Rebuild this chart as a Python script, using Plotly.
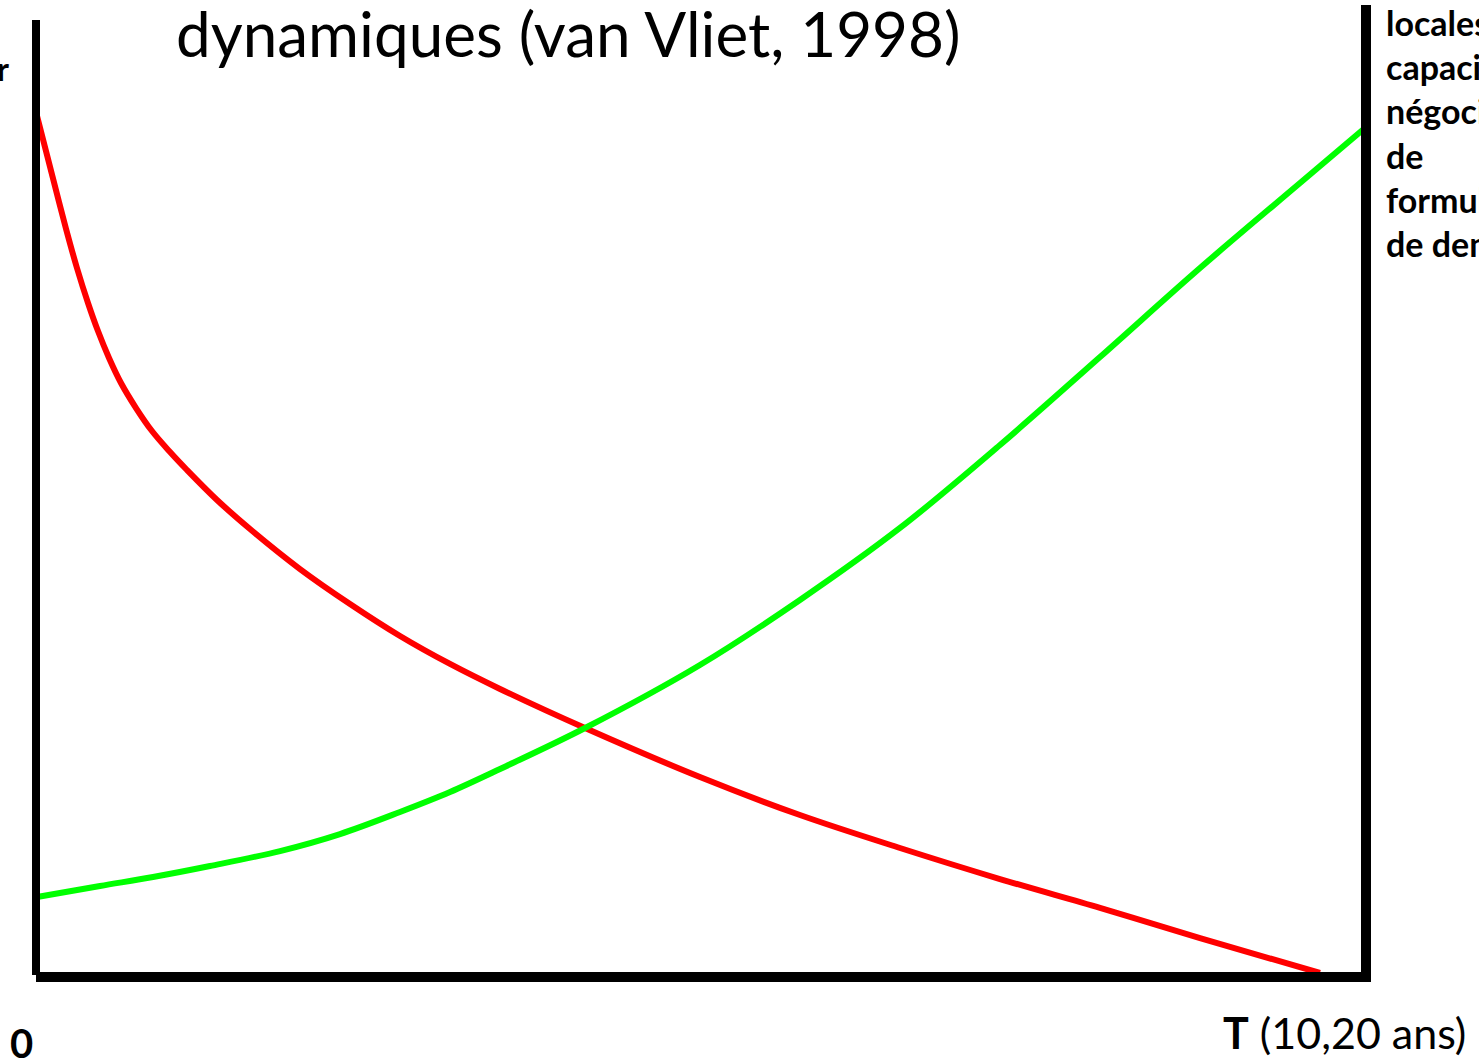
import plotly.graph_objects as go

# Time axis (0 = start, 100 = T) and relative level (0-100)
red_x = [0, 0.75, 1.50, 2.26, 3.08, 3.91, 4.66, 5.49, 6.39, 7.52, 8.72, 10.08, 11.35,
         13.61, 16.09, 19.85, 23.61, 27.37, 31.13, 34.89, 41.28, 49.92, 57.44, 64.96,
         72.48, 80.00, 87.52, 96.54]
red_y = [90.37, 86.28, 82.20, 78.12, 74.03, 70.37, 67.43, 64.61, 61.99, 59.37, 56.96,
         54.76, 52.88, 49.74, 46.70, 42.51, 38.85, 35.50, 32.57, 29.95, 25.86, 20.73,
         16.75, 13.30, 10.05, 7.02, 3.87, 0.21]

green_x = [0.08, 4.81, 8.80, 13.08, 18.35, 22.86, 27.37, 31.13, 34.89, 41.28, 49.92,
           57.44, 64.96, 72.48, 80.00, 87.52, 95.04, 99.92]
green_y = [8.17, 9.32, 10.26, 11.41, 12.98, 14.76, 17.07, 19.16, 21.57, 25.86, 32.46,
           39.27, 46.81, 55.50, 64.71, 74.03, 82.93, 88.69]

title_text = "dynamiques (van Vliet, 1998)"
left_label = "r"
right_label_lines = ["locales", "capacités", "négociation", "de", "formulation", "de demande"]
origin_label = "0"
time_label = "<b>T</b> (10,20 ans)"

fig = go.Figure()
fig.add_trace(go.Scatter(x=red_x, y=red_y, mode="lines",
                         line=dict(color="#FF0000", width=6, shape="spline", smoothing=1.0),
                         showlegend=False, hoverinfo="skip"))
fig.add_trace(go.Scatter(x=green_x, y=green_y, mode="lines",
                         line=dict(color="#00FF00", width=6, shape="spline", smoothing=1.0),
                         showlegend=False, hoverinfo="skip"))

W, H = 1479, 1059
L, R, T, B = 36, 113, 20, 84
pw, ph = W - L - R, H - T - B

def px(x):
    return (x - L) / pw

def py(y):
    return (H - B - y) / ph

shapes = [
    dict(type="line", xref="paper", yref="paper", x0=px(36), x1=px(36), y0=py(975), y1=py(20),
         line=dict(color="black", width=8)),
    dict(type="line", xref="paper", yref="paper", x0=px(36), x1=px(1371), y0=py(977), y1=py(977),
         line=dict(color="black", width=10)),
    dict(type="line", xref="paper", yref="paper", x0=px(1366), x1=px(1366), y0=py(975), y1=py(5),
         line=dict(color="black", width=10)),
]

font_family = "Lato, 'Open Sans', sans-serif"
annotations = [
    dict(text=title_text, xref="paper", yref="paper", x=px(568), y=py(33), xanchor="center", yanchor="middle",
         showarrow=False, font=dict(family=font_family, size=62, color="black")),
    dict(text="<b>" + left_label + "</b>", xref="paper", yref="paper", x=px(11), y=py(68),
         xanchor="right", yanchor="middle", showarrow=False,
         font=dict(family=font_family, size=32, color="black")),
    dict(text="<b>" + "<br>".join(right_label_lines) + "</b>", xref="paper", yref="paper",
         x=px(1384), y=py(0), xanchor="left", yanchor="top", align="left", showarrow=False,
         font=dict(family=font_family, size=34, color="black")),
    dict(text="<b>" + origin_label + "</b>", xref="paper", yref="paper", x=px(21), y=py(1043),
         xanchor="center", yanchor="middle", showarrow=False,
         font=dict(family=font_family, size=40, color="black")),
    dict(text=time_label, xref="paper", yref="paper", x=px(1344), y=py(1032),
         xanchor="center", yanchor="middle", showarrow=False,
         font=dict(family=font_family, size=43, color="black")),
]

fig.update_layout(
    width=W, height=H,
    margin=dict(l=L, r=R, t=T, b=B, pad=0),
    paper_bgcolor="white", plot_bgcolor="white",
    xaxis=dict(range=[0, 100], visible=False, fixedrange=True),
    yaxis=dict(range=[0, 100], visible=False, fixedrange=True),
    shapes=shapes, annotations=annotations,
)

fig.write_html("out.html", config={"displayModeBar": False},
               post_script="document.body.style.margin='0';document.body.style.overflow='hidden';")
